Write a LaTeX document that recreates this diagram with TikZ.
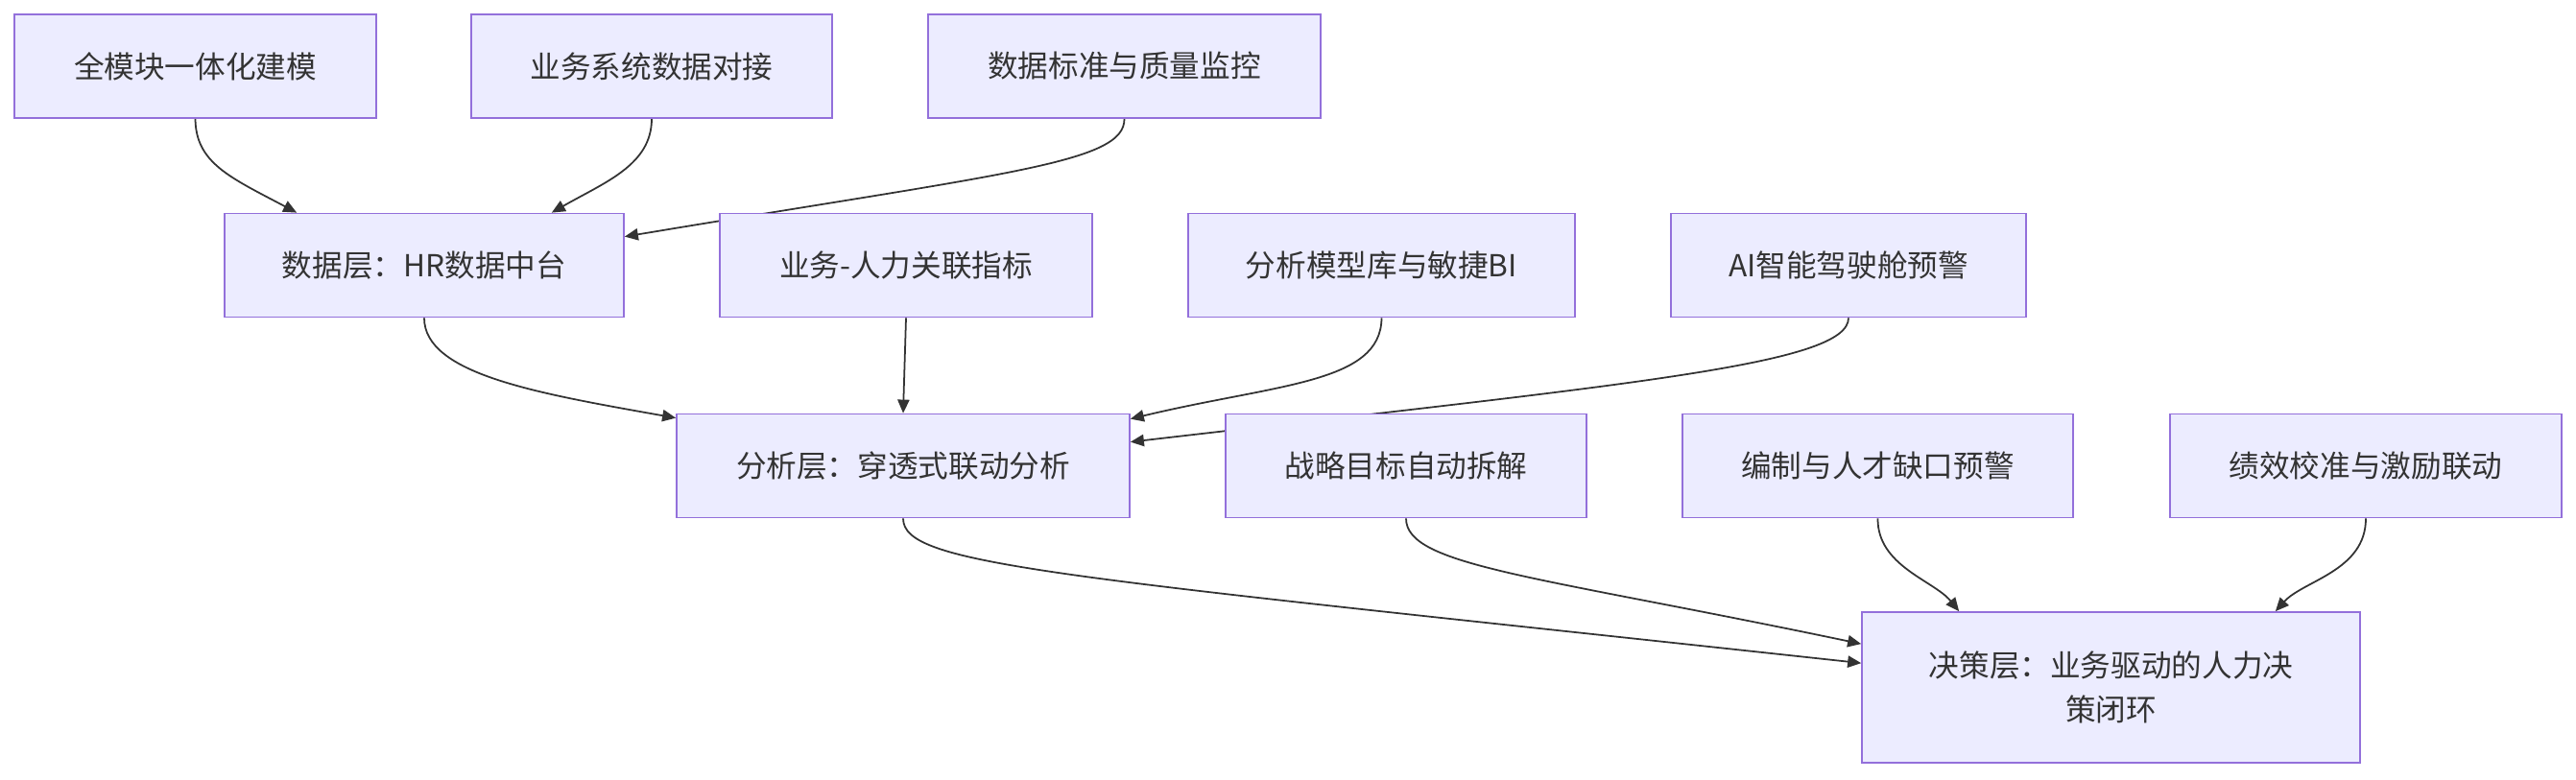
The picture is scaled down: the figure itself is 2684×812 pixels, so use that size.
\documentclass[tikz,border=0pt]{standalone}
\usepackage{fontspec}
\setmainfont{Noto Sans CJK SC}
\usetikzlibrary{arrows.meta,calc,backgrounds}
\definecolor{boxfill}{HTML}{ECECFF}
\definecolor{boxline}{HTML}{9370DB}
\definecolor{ink}{HTML}{333333}

\begin{document}
\begin{tikzpicture}[x=0.02cm,y=-0.02cm,
  box/.style={draw=boxline,fill=boxfill,line width=1pt,minimum height=2.16cm,inner sep=0pt,
    text=ink,font=\fontsize{18}{26.6}\selectfont,align=center},
  link/.style={draw=ink,line width=1pt,-{Triangle[length=8pt,width=7pt]}}]
\useasboundingbox (0,0) rectangle (2684,812);
% sources
\node[box,minimum width=7.54cm] (model) at (203.5,69) {全模块一体化建模};
\node[box,minimum width=7.52cm] (interface) at (679,69) {业务系统数据对接};
\node[box,minimum width=8.18cm] (quality) at (1171.5,69) {数据标准与质量监控};
% data layer row
\node[box,minimum width=8.32cm] (hrdata) at (442,276.5) {数据层：HR数据中台};
\node[box,minimum width=7.76cm] (metric) at (944,276.5) {业务-人力关联指标};
\node[box,minimum width=8.06cm] (bilib) at (1439.5,276.5) {分析模型库与敏捷BI};
\node[box,minimum width=7.40cm] (cockpit) at (1926,276.5) {AI智能驾驶舱预警};
% analysis layer row
\node[box,minimum width=9.44cm] (analysis) at (941,485.5) {分析层：穿透式联动分析};
\node[box,minimum width=7.52cm] (goal) at (1465,485.5) {战略目标自动拆解};
\node[box,minimum width=8.14cm] (talent) at (1956.5,485.5) {编制与人才缺口预警};
\node[box,minimum width=8.16cm] (perf) at (2465,485.5) {绩效校准与激励联动};
% decision layer
\node[box,minimum width=10.38cm,minimum height=3.14cm] (decision) at (2199.5,716.5) {决策层：业务驱动的人力决\\策闭环};

\begin{scope}[on background layer]
\draw[link] (model.south) .. controls (204,170) and (240,185) .. ($(hrdata.north west)+(76,0)$);
\draw[link] (interface.south) .. controls (679,172) and (630,190) .. ($(hrdata.north east)+(-76,0)$);
\draw[link] (quality.south) .. controls (1172,170) and (1050,180) .. ($(hrdata.north east)+(0,25)$);
\draw[link] (hrdata.south) .. controls (442,390) and (560,410) .. ($(analysis.north west)+(0,5)$);
\draw[link] (metric.south) -- (analysis.north);
\draw[link] (bilib.south) .. controls (1439,400) and (1330,400) .. ($(analysis.north east)+(0,6)$);
\draw[link] (cockpit.south) .. controls (1926,380) and (1700,400) .. ($(analysis.north east)+(0,30)$);
\draw[link] (analysis.south) .. controls (941,590) and (1100,600) .. ($(decision.north west)+(0,54)$);
\draw[link] (goal.south) .. controls (1465,590) and (1600,600) .. ($(decision.north west)+(0,34)$);
\draw[link] (talent.south) .. controls (1956,590) and (2015,605) .. ($(decision.north west)+(102,0)$);
\draw[link] (perf.south) .. controls (2465,595) and (2400,605) .. ($(decision.north east)+(-89,0)$);
\end{scope}
\end{tikzpicture}
\end{document}
